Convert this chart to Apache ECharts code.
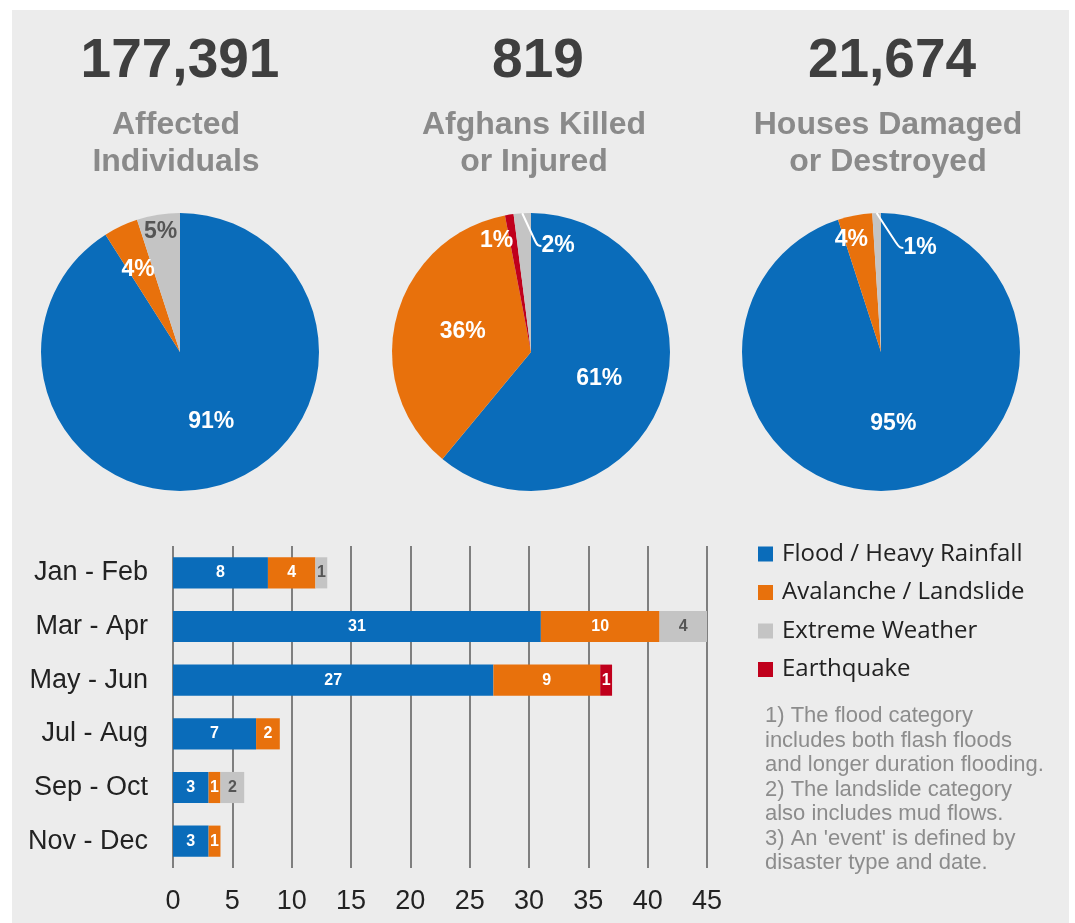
<!DOCTYPE html>
<html>
<head>
<meta charset="utf-8">
<script src="https://cdn.jsdelivr.net/npm/echarts@6/dist/echarts.min.js"></script>
<style>
  html, body { margin: 0; padding: 0; background: #ffffff; }
  #bg { position: absolute; left: 12px; top: 10px; width: 1057px; height: 913px; background: #ececec; }
  #chart { position: absolute; left: 0; top: 0; width: 1075px; height: 923px; }
</style>
</head>
<body>
<div id="bg"></div>
<div id="chart"></div>
<script>
// ---- data ----
const periods = ['Jan - Feb', 'Mar - Apr', 'May - Jun', 'Jul - Aug', 'Sep - Oct', 'Nov - Dec'];
const floodEvents = [8, 31, 27, 7, 3, 3];
const avalancheEvents = [4, 10, 9, 2, 1, 1];
const extremeEvents = [1, 4, null, null, 2, null];
const earthquakeEvents = [null, null, 1, null, null, null];
const xTicks = [0, 5, 10, 15, 20, 25, 30, 35, 40, 45];

const typeNames = ['Flood / Heavy Rainfall', 'Avalanche / Landslide', 'Extreme Weather', 'Earthquake'];

const affectedNames = ['Flood / Heavy Rainfall', 'Avalanche / Landslide', 'Extreme Weather'];
const affectedPct = [91, 4, 5];
const casualtyNames = ['Flood / Heavy Rainfall', 'Avalanche / Landslide', 'Earthquake', 'Extreme Weather'];
const casualtyPct = [61, 36, 1, 2];
const housesNames = ['Flood / Heavy Rainfall', 'Avalanche / Landslide', 'Extreme Weather'];
const housesPct = [95, 4, 1];

const headlineNumbers = ['177,391', '819', '21,674'];
const headlineLabels = ['Affected\nIndividuals', 'Afghans Killed\nor Injured', 'Houses Damaged\nor Destroyed'];

const footnote = "1) The flood category\nincludes both flash floods\nand longer duration flooding.\n2) The landslide category\nalso includes mud flows.\n3) An 'event' is defined by\ndisaster type and date.";

// ---- styles ----
const COLORS = {
  'Flood / Heavy Rainfall': '#0a6cba',
  'Avalanche / Landslide': '#e8710c',
  'Extreme Weather': '#c4c4c4',
  'Earthquake': '#c0001c'
};
const FONT = '"Liberation Sans", Arial, sans-serif';

const chart = echarts.init(document.getElementById('chart'), null, { renderer: 'canvas' });

// lineIdx: slice whose label sits over the neighbouring slice with a short leader line
// lineOffset: label centre relative to the top-right corner of that slice's bounding box
function pieSeries(names, values, center, offsets, darkLabelName, lineIdx, lineOffset) {
  return {
    type: 'pie',
    center: center,
    radius: 139,
    startAngle: 90,
    clockwise: true,
    avoidLabelOverlap: false,
    silent: true,
    label: {
      show: true,
      position: 'inside',
      formatter: '{c}%',
      color: '#ffffff',
      fontFamily: FONT,
      fontWeight: 'bold',
      fontSize: 23
    },
    labelLine: { show: false },
    labelLayout: function (p) {
      if (p.dataIndex === lineIdx) {
        return {
          x: p.rect.x + p.rect.width + lineOffset[0],
          y: p.rect.y + lineOffset[1],
          align: 'center',
          verticalAlign: 'middle'
        };
      }
      const o = offsets[p.dataIndex] || [0, 0];
      return { dx: o[0], dy: o[1] };
    },
    data: names.map(function (n, i) {
      const item = {
        name: n,
        value: values[i],
        itemStyle: { color: COLORS[n] }
      };
      if (n === darkLabelName) item.label = { color: '#555555' };
      if (i === lineIdx) {
        item.label = { position: 'outside', color: '#ffffff' };
        item.labelLine = { show: true, showAbove: true, length: 4, length2: 4, smooth: 0.5, lineStyle: { color: '#ffffff', width: 2 } };
      }
      return item;
    })
  };
}

function barSeries(name, data, labelColor) {
  return {
    type: 'bar',
    name: name,
    stack: 'events',
    data: data,
    barCategoryGap: '42%',
    itemStyle: { color: COLORS[name] },
    label: {
      show: true,
      position: 'inside',
      color: labelColor,
      fontFamily: FONT,
      fontWeight: 'bold',
      fontSize: 16
    }
  };
}

const titleX = [180, 538, 892];
const graphics = [];
headlineNumbers.forEach(function (t, i) {
  graphics.push({
    type: 'text', x: titleX[i], y: 62, silent: true,
    style: { text: t, fill: '#3f3f3f', font: 'bold 55px ' + FONT, textAlign: 'center', textVerticalAlign: 'middle' }
  });
  graphics.push({
    type: 'text', x: titleX[i] - 4, y: 144, silent: true,
    style: { text: headlineLabels[i], fill: '#8a8a8a', font: 'bold 32px ' + FONT, lineHeight: 37, textAlign: 'center', textVerticalAlign: 'middle' }
  });
});
graphics.push({
  type: 'text', x: 765, y: 704, silent: true,
  style: { text: footnote, fill: '#8c8c8c', font: '22px ' + FONT, lineHeight: 24.5, textAlign: 'left', textVerticalAlign: 'top' }
});

const option = {
  animation: false,
  textStyle: { fontFamily: FONT },
  legend: {
    data: typeNames,
    orient: 'vertical',
    left: 758,
    top: 542,
    padding: 0,
    itemWidth: 15,
    itemHeight: 15,
    itemGap: 14.5,
    icon: 'rect',
    selectedMode: false,
    textStyle: { fontFamily: '"Open Sans", sans-serif', fontSize: 24, color: '#222222', lineHeight: 23.5, padding: [0, 0, 0, 4] }
  },
  grid: { left: 173, right: 368, top: 546, bottom: 55, containLabel: false },
  xAxis: {
    type: 'value',
    min: xTicks[0],
    max: xTicks[xTicks.length - 1],
    interval: 5,
    axisLine: { show: false },
    axisTick: { show: false },
    splitLine: { show: true, lineStyle: { color: '#7f7f7f', width: 2 } },
    axisLabel: { color: '#222222', fontSize: 27, fontFamily: FONT, margin: 20 }
  },
  yAxis: {
    type: 'category',
    data: periods,
    inverse: true,
    axisLine: { show: false },
    axisTick: { show: false },
    axisLabel: { color: '#222222', fontSize: 27, fontFamily: FONT, margin: 25 }
  },
  series: [
    barSeries('Flood / Heavy Rainfall', floodEvents, '#ffffff'),
    barSeries('Avalanche / Landslide', avalancheEvents, '#ffffff'),
    barSeries('Extreme Weather', extremeEvents, '#555555'),
    barSeries('Earthquake', earthquakeEvents, '#ffffff'),
    pieSeries(affectedNames, affectedPct, [180, 352], [[11, 0], [-11, -17], [-8, -49]], 'Extreme Weather', -1, null),
    pieSeries(casualtyNames, casualtyPct, [531, 352], [[0, 2], [2, -2], [-23, -40]], null, 3, [27, 33]),
    pieSeries(housesNames, housesPct, [881, 352], [[1, 0], [-16, -41]], null, 2, [39, 35])
  ],
  graphic: graphics
};

chart.setOption(option);
</script>
</body>
</html>
